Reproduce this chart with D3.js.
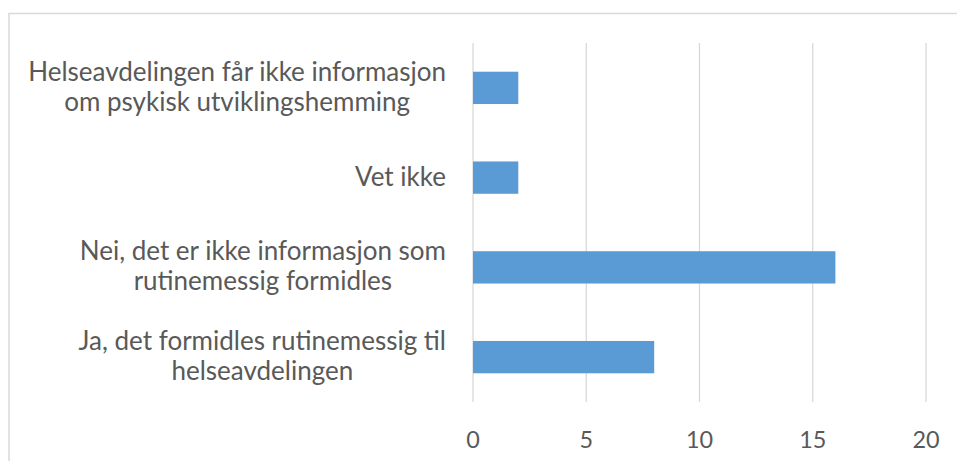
<!DOCTYPE html>
<html>
<head>
<meta charset="utf-8">
<title>Helseavdelingen og informasjon</title>
<script src="https://d3js.org/d3.v7.min.js"></script>
<style>
  body { margin: 0; background: #fff; }
  svg text { font-family: Lato, "Open Sans", sans-serif; fill: #595959; }
</style>
</head>
<body>
<div id="chart"></div>
<script>
// categories, top to bottom
var categories = [
  ["Helseavdelingen får ikke informasjon", "om psykisk utviklingshemming"],
  ["Vet ikke"],
  ["Nei, det er ikke informasjon som", "rutinemessig formidles"],
  ["Ja, det formidles rutinemessig til", "helseavdelingen"]
];
var values = [2, 2, 16, 8];
var xTicks = [0, 5, 10, 15, 20];

var width = 957, height = 461;
var plotLeft = 473, plotRight = 926, plotTop = 43, plotBottom = 402;

var svg = d3.select("#chart").append("svg")
  .attr("width", width)
  .attr("height", height);

// chart frame, cropped at right and bottom
svg.append("rect")
  .attr("x", 9).attr("y", 13.5)
  .attr("width", 1000).attr("height", 600)
  .attr("fill", "none")
  .attr("stroke", "#d9d9d9")
  .attr("stroke-width", 1.5);

var x = d3.scaleLinear().domain([0, 20]).range([plotLeft, plotRight]);
var y = d3.scaleBand()
  .domain(d3.range(categories.length))
  .range([plotTop, plotBottom])
  .paddingInner(0.64)
  .paddingOuter(0.32);

// fit font size so the longest label line is ~418px wide
var probe = svg.append("text").attr("font-size", 100).text(categories[0][0]);
var fs = 100 * 418 / probe.node().getComputedTextLength();
probe.remove();

// gridlines
svg.append("g").selectAll("line")
  .data(xTicks)
  .join("line")
  .attr("x1", d => x(d)).attr("x2", d => x(d))
  .attr("y1", plotTop).attr("y2", plotBottom)
  .attr("stroke", "#d9d9d9")
  .attr("stroke-width", 1.3);

// bars
svg.append("g").selectAll("rect")
  .data(values)
  .join("rect")
  .attr("x", x(0))
  .attr("y", (d, i) => y(i))
  .attr("width", d => x(d) - x(0))
  .attr("height", y.bandwidth())
  .attr("fill", "#5b9bd5");

// x tick labels
svg.append("g").selectAll("text")
  .data(xTicks)
  .join("text")
  .attr("x", d => x(d))
  .attr("y", 439)
  .attr("text-anchor", "middle")
  .attr("dominant-baseline", "central")
  .attr("font-size", fs * 0.9)
  .text(d => d);

// category labels: block right-aligned at 446, lines centred in block
var labelRight = 446, lineGap = 30;
categories.forEach(function(lines, i) {
  var cy = y(i) + y.bandwidth() / 2 - 2;
  var g = svg.append("g");
  var texts = lines.map(function(s, j) {
    return g.append("text")
      .attr("font-size", fs)
      .attr("dominant-baseline", "central")
      .attr("text-anchor", "middle")
      .attr("y", cy + (j - (lines.length - 1) / 2) * lineGap)
      .text(s);
  });
  var w = d3.max(texts, t => t.node().getComputedTextLength());
  texts.forEach(t => t.attr("x", labelRight - w / 2));
});
</script>
</body>
</html>
